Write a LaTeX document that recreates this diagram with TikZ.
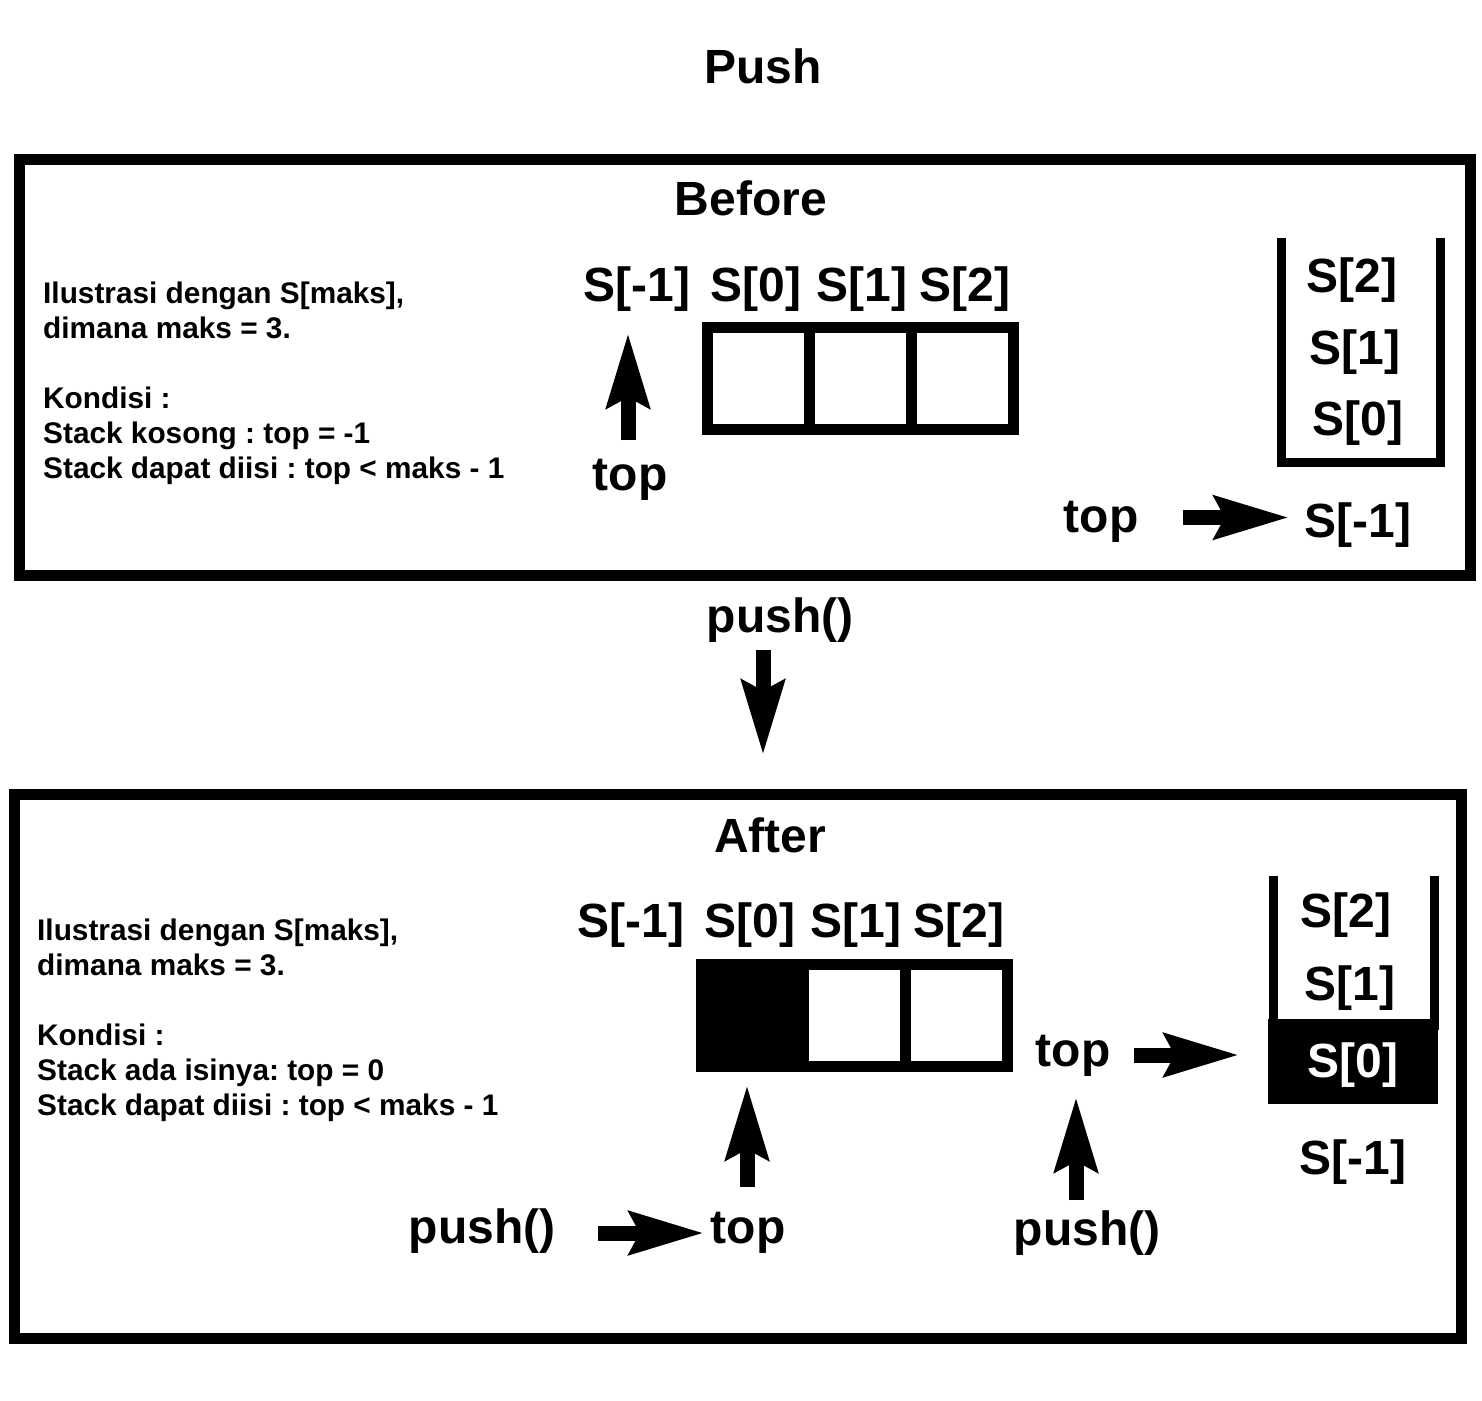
\documentclass[tikz,border=0pt]{standalone}
\usepackage{fontspec}
\setmainfont{Liberation Sans}
\usetikzlibrary{arrows.meta}
\frenchspacing
\begin{document}
\frenchspacing
\begin{tikzpicture}[x=1pt,y=-1pt,
  big/.style={font=\fontsize{48}{57}\selectfont\bfseries, inner sep=0pt, anchor=base},
  small/.style={font=\fontsize{29.8}{35}\selectfont\bfseries\frenchspacing, inner sep=0pt, anchor=base west},
  frame/.style={line width=11pt, draw=black},
  cellline/.style={line width=11pt, draw=black},
  stackline/.style={line width=9pt, draw=black, line join=miter},
  bigarrow/.style={line width=15pt, -{Stealth[length=74pt,width=42pt,inset=10pt]}}]
\useasboundingbox (0,0) rectangle (1482,1400);
\fill[white] (0,0) rectangle (1482,1400);

% title
\node[big] (title) at (763,83) {Push};

% ===== Before frame =====
\draw[frame] (19,159) rectangle (1470,575);
\node[big] (before) at (751,215) {Before};

\node[small] (b1) at (43,303) {Ilustrasi dengan S[maks],};
\node[small] (b2) at (43,338) {dimana maks = 3.};
\node[small] (b3) at (43,408) {Kondisi :};
\node[small] (b4) at (43,443) {Stack kosong : top = -1};
\node[small] (b5) at (43,478) {Stack dapat diisi : top < maks - 1};

\node[big] (bsm1) at (637,301) {S[-1]};
\node[big] (bs0) at (756,301) {S[0]};
\node[big] (bs1) at (862,301) {S[1]};
\node[big] (bs2) at (965,301) {S[2]};

\draw[cellline] (707.5,327.5) rectangle (1013.5,429.5);
\draw[cellline] (809.5,327.5) -- (809.5,429.5);
\draw[cellline] (911,327.5) -- (911,429.5);

\node[big] (btop) at (630,490) {top};
\coordinate (bu1) at (628,440);
\coordinate (bu2) at (628,333);
\draw[bigarrow] (bu1) -- (bu2);

\draw[stackline] (1281.5,238) -- (1281.5,462.5) -- (1440.5,462.5) -- (1440.5,238);
\node[big] (rs2) at (1352,292) {S[2]};
\node[big] (rs1) at (1355,364) {S[1]};
\node[big] (rs0) at (1358,435) {S[0]};
\node[big] (rsm1) at (1358,537) {S[-1]};
\node[big] (rtop) at (1101,532) {top};
\coordinate (ra1) at (1183,517.5);
\coordinate (ra2) at (1289,517.5);
\draw[bigarrow] (ra1) -- (ra2);

% ===== middle =====
\node[big] (mpush) at (780,632) {push()};
\coordinate (md1) at (763,650);
\coordinate (md2) at (763,755);
\draw[bigarrow] (md1) -- (md2);

% ===== After frame =====
\draw[frame] (14.5,794.5) rectangle (1461.5,1338);
\node[big] (after) at (770,852) {After};

\node[small] (a1) at (37,940) {Ilustrasi dengan S[maks],};
\node[small] (a2) at (37,975) {dimana maks = 3.};
\node[small] (a3) at (37,1045) {Kondisi :};
\node[small] (a4) at (37,1080) {Stack ada isinya: top = 0};
\node[small] (a5) at (37,1115) {Stack dapat diisi : top < maks - 1};

\node[big] (asm1) at (631,937) {S[-1]};
\node[big] (as0) at (750,937) {S[0]};
\node[big] (as1) at (856,937) {S[1]};
\node[big] (as2) at (959,937) {S[2]};

\fill[black] (696,959) rectangle (809,1072);
\draw[cellline] (701.5,964.5) rectangle (1007.5,1066.5);
\draw[cellline] (905,964.5) -- (905,1066.5);

\node[big] (apush1) at (482,1243) {push()};
\node[big] (atop1) at (748,1243) {top};
\coordinate (ap1) at (598,1233);
\coordinate (ap2) at (704,1233);
\draw[bigarrow] (ap1) -- (ap2);
\coordinate (au1) at (747,1187);
\coordinate (au2) at (747,1085);
\draw[bigarrow] (au1) -- (au2);

\node[big] (apush2) at (1087,1245) {push()};
\coordinate (av1) at (1076,1200);
\coordinate (av2) at (1076,1097);
\draw[bigarrow] (av1) -- (av2);

\node[big] (atop2) at (1073,1066) {top};
\coordinate (ar1) at (1134,1055);
\coordinate (ar2) at (1239,1055);
\draw[bigarrow] (ar1) -- (ar2);

\draw[stackline] (1273.5,876) -- (1273.5,1030);
\draw[stackline] (1434,876) -- (1434,1030);
\fill[black] (1268,1019) rectangle (1438,1104);
\node[big] (as2s) at (1346,927) {S[2]};
\node[big] (as1s) at (1350,1000) {S[1]};
\node[big, text=white] (as0s) at (1353,1077) {S[0]};
\node[big] (asm1s) at (1353,1174) {S[-1]};
\end{tikzpicture}
\end{document}
